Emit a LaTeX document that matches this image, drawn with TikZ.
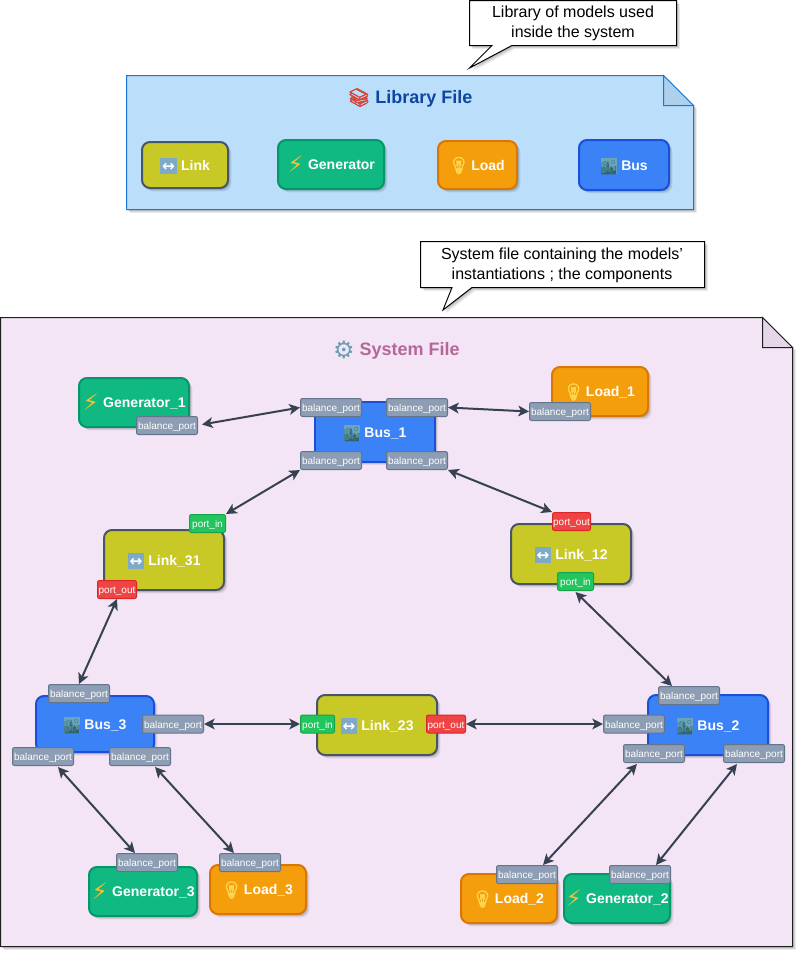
\documentclass[tikz,border=0pt]{standalone}
\usepackage{fontspec}
\setmainfont{Liberation Sans}
\newfontfamily\emofont[FakeBold=3]{Noto Emoji}
\newfontfamily\emolight{Noto Emoji}
\newfontfamily\symfont{DejaVu Sans}
\usetikzlibrary{arrows.meta,shadows,calc}
\definecolor{linkc}{HTML}{C8C826}\definecolor{linkd}{HTML}{475569}
\definecolor{genc}{HTML}{10B981}\definecolor{gend}{HTML}{059669}
\definecolor{loadc}{HTML}{F59E0B}\definecolor{loadd}{HTML}{D97706}
\definecolor{busc}{HTML}{3B82F6}\definecolor{busd}{HTML}{1D4ED8}
\definecolor{portc}{HTML}{8D9DB3}\definecolor{portd}{HTML}{64748B}
\definecolor{inc}{HTML}{22C55E}\definecolor{ind}{HTML}{16A34A}
\definecolor{outc}{HTML}{EF4444}\definecolor{outd}{HTML}{DC2626}
\definecolor{libfill}{HTML}{BBDEFB}\definecolor{libdraw}{HTML}{1976D2}\definecolor{libfold}{HTML}{AFD0EC}
\definecolor{libtitle}{HTML}{0D47A1}
\definecolor{sysfill}{HTML}{F3E5F5}\definecolor{sysdraw}{HTML}{1F1F1F}\definecolor{sysfold}{HTML}{E6D6E9}
\definecolor{systitle}{HTML}{B5679A}
\definecolor{wire}{HTML}{374151}
\definecolor{boltc}{HTML}{FBC02D}\definecolor{bulbc}{HTML}{FFD54F}\definecolor{citybg}{HTML}{6AA5BE}\definecolor{cityc}{HTML}{2F6468}
\definecolor{arrc}{HTML}{7FA9C9}\definecolor{gearc}{HTML}{6F9DB0}\definecolor{bookc}{HTML}{D9453B}
\setlength{\fboxsep}{0pt}
\newcommand{\emoj}[2]{{\emofont\textcolor{#1}{#2}}}
\newcommand{\IcLink}{\makebox[12.8pt][c]{\smash{\raisebox{-2.2pt}{\colorbox{arrc}{\makebox[12.5pt][c]{\rule[-0.5pt]{0pt}{11.7pt}\raisebox{1.2pt}{\symfont\bfseries\fontsize{11.5pt}{12pt}\selectfont\textcolor{white}{↔}}}}}}}}
\newcommand{\IcGen}{\makebox[12.8pt][c]{\smash{\raisebox{-1.8pt}{\symfont\fontsize{17pt}{18pt}\selectfont\textcolor{boltc}{⚡}}}}}
\newcommand{\IcLoad}{\makebox[12.8pt][c]{\smash{\raisebox{-0.8pt}{\fontsize{12.5pt}{13pt}\selectfont\emoj{bulbc}{💡}}}}}
\newcommand{\IcBus}{\makebox[12.8pt][c]{\smash{\raisebox{-2.2pt}{\colorbox{citybg}{\makebox[12pt][c]{\rule[-0.5pt]{0pt}{11.5pt}\raisebox{0.8pt}{\emolight\fontsize{10.5pt}{10pt}\selectfont\textcolor{cityc}{🏙}}}}}}}}
\tikzset{
  x=0.75pt,y=-0.75pt,
  softshadow/.style={
    drop shadow={shadow xshift=0.9pt,shadow yshift=-0.9pt,opacity=.10,fill=black},
    drop shadow={shadow xshift=1.7pt,shadow yshift=-1.7pt,opacity=.10,fill=black},
    drop shadow={shadow xshift=2.5pt,shadow yshift=-2.5pt,opacity=.08,fill=black}},
  block/.style={draw,line width=1.5pt,rounded corners=6pt,text=white,inner sep=0pt,
    text height=9pt,text depth=1.2pt,
    font=\bfseries\fontsize{10.5pt}{12pt}\selectfont,softshadow},
  linkb/.style={block,fill=linkc,draw=linkd},
  genb/.style={block,fill=genc,draw=gend},
  loadb/.style={block,fill=loadc,draw=loadd},
  busb/.style={block,fill=busc,draw=busd},
  portb/.style={draw,line width=0.75pt,rounded corners=1.5pt,inner sep=0pt,text=white,
    text height=7.3pt,text depth=1.3pt,
    font=\fontsize{7.5pt}{9pt}\selectfont},
  balp/.style={portb,fill=portc,draw=portd},
  inp/.style={portb,fill=inc,draw=ind},
  outp/.style={portb,fill=outc,draw=outd},
  sheetl/.style={fill=libfill,draw=libdraw,line width=0.75pt},
  sheets/.style={fill=sysfill,draw=sysdraw,line width=0.75pt},
  wirel/.style={draw=wire,line width=1.5pt,{Stealth[length=8pt,width=8pt,inset=2pt]}-{Stealth[length=8pt,width=8pt,inset=2pt]}},
  callout/.style={fill=white,draw=black,line width=0.75pt},
  calltext/.style={align=center,inner sep=0pt,font=\fontsize{12pt}{15.2pt}\selectfont},
  titletext/.style={inner sep=0pt,font=\bfseries\fontsize{13.5pt}{16pt}\selectfont},
}
% \blk{name}{style}{x0}{y0}{x1}{y1}{text}
\newcommand{\blk}[7]{\node[#2,minimum width={(#5-#3)*0.75pt},minimum height={(#6-#4)*0.75pt}] (#1) at ({(#3+#5)/2},{(#4+#6)/2}) {#7};}
\begin{document}
\begin{tikzpicture}
\useasboundingbox (0,0) rectangle (804,958);
% Library sheet
\path[sheetl,softshadow] (126.5,75.5) -- (663.5,75.5) -- (693.5,105.5) -- (693.5,209.5) -- (126.5,209.5) -- cycle;
\path[sheetl,fill=libfold] (663.5,75.5) -- (693.5,105.5) -- (663.5,105.5) -- cycle;
\node[titletext,text=libtitle] (libtitle) at (410,98) {\emoj{bookc}{📚} Library File};
\blk{mlink}{linkb}{142}{142}{228}{188}{\IcLink\ Link}
\blk{mgen}{genb}{278}{140}{384}{189}{\IcGen\ Generator}
\blk{mload}{loadb}{438}{141}{517}{189}{\IcLoad\ Load}
\blk{mbus}{busb}{579}{140}{669}{190}{\IcBus\ Bus}
% Callout 1
\path[callout,softshadow] (469.5,0.5) -- (676.5,0.5) -- (676.5,45.5) -- (512,45.5) -- (469.5,68) -- (492,45.5) -- (469.5,45.5) -- cycle;
\node[calltext] (calla) at (573,23.5) {Library of models used\\inside the system};
% System sheet
\path[sheets,softshadow] (0.5,317.5) -- (762.5,317.5) -- (792.5,347.5) -- (792.5,946.5) -- (0.5,946.5) -- cycle;
\path[sheets,fill=sysfold] (762.5,317.5) -- (792.5,347.5) -- (762.5,347.5) -- cycle;
\node[titletext,text=systitle] (systitle) at (396.5,351) {\makebox[16pt][c]{\smash{\raisebox{-2pt}{\symfont\fontsize{18pt}{18pt}\selectfont\textcolor{gearc}{⚙}}}} System File};
% Callout 2
\path[callout,softshadow] (420.5,241.5) -- (704.5,241.5) -- (704.5,287.5) -- (472,287.5) -- (443,310) -- (452,287.5) -- (420.5,287.5) -- cycle;
\node[calltext] (callb) at (562,265) {System file containing the models'\\instantiations ; the components};
% Blocks
\blk{gone}{genb}{79}{378}{189}{427}{\IcGen\ Generator\_1}
\blk{lone}{loadb}{552}{367}{648}{416}{\IcLoad\ Load\_1}
\blk{bone}{busb,rounded corners=0pt}{315}{402}{435}{462}{\IcBus\ Bus\_1}
\blk{lkto}{linkb}{104}{530}{224}{590}{\IcLink\ Link\_31}
\blk{lkot}{linkb}{511}{524}{631}{584}{\IcLink\ Link\_12}
\blk{lktt}{linkb}{317}{695}{437}{755}{\IcLink\ Link\_23}
\blk{bthr}{busb}{36}{696}{154}{752}{\IcBus\ Bus\_3}
\blk{btwo}{busb}{648}{695}{768}{755}{\IcBus\ Bus\_2}
\blk{gthr}{genb}{89}{867}{197}{916}{\IcGen\ Generator\_3}
\blk{lthr}{loadb}{210}{865}{306}{914}{\IcLoad\ Load\_3}
\blk{ltwo}{loadb}{461}{874}{557}{923}{\IcLoad\ Load\_2}
\blk{gtwo}{genb}{564}{874}{670}{923}{\IcGen\ Generator\_2}
% Ports
\blk{pg1}{balp}{136.5}{416.5}{197.5}{434.5}{balance\_port}
\blk{pl1}{balp}{529.5}{402.5}{590.5}{420.5}{balance\_port}
\blk{pb1a}{balp}{300.5}{398.5}{361.5}{416.5}{balance\_port}
\blk{pb1b}{balp}{386.5}{398.5}{447.5}{416.5}{balance\_port}
\blk{pb1c}{balp}{300.5}{451.5}{361.5}{469.5}{balance\_port}
\blk{pb1d}{balp}{386.5}{451.5}{447.5}{469.5}{balance\_port}
\blk{p31i}{inp}{189.5}{514.5}{225.5}{532.5}{port\_in}
\blk{p31o}{outp}{97.5}{580.5}{136.5}{598.5}{port\_out}
\blk{p12o}{outp}{552.5}{512.5}{590.5}{530.5}{port\_out}
\blk{p12i}{inp}{557.5}{572.5}{593.5}{590.5}{port\_in}
\blk{p23i}{inp}{300.5}{715}{334.5}{733}{port\_in}
\blk{p23o}{outp}{426.5}{715}{465.5}{733}{port\_out}
\blk{pb3a}{balp}{48.5}{684.5}{109.5}{702.5}{balance\_port}
\blk{pb3b}{balp}{142.5}{715}{203.5}{733}{balance\_port}
\blk{pb3c}{balp}{12.5}{747.5}{73.5}{765.5}{balance\_port}
\blk{pb3d}{balp}{109.5}{747.5}{170.5}{765.5}{balance\_port}
\blk{pb2a}{balp}{658.5}{686.5}{719.5}{704.5}{balance\_port}
\blk{pb2b}{balp}{603.5}{715}{664.5}{733}{balance\_port}
\blk{pb2c}{balp}{623.5}{744.5}{684.5}{762.5}{balance\_port}
\blk{pb2d}{balp}{723.5}{744.5}{784.5}{762.5}{balance\_port}
\blk{pg3}{balp}{116.5}{853.5}{177.5}{871.5}{balance\_port}
\blk{pl3}{balp}{219.5}{853.5}{280.5}{871.5}{balance\_port}
\blk{pl2}{balp}{496.5}{865.5}{557.5}{883.5}{balance\_port}
\blk{pg2}{balp}{609.5}{865.5}{670.5}{883.5}{balance\_port}
% Connectors
\draw[wirel] ([shift={(4,-1)}]pg1.east) -- (pb1a.west);
\draw[wirel] (pb1b.east) -- (pl1.west);
\draw[wirel] (pb1c.south west) -- (p31i.north east);
\draw[wirel] (pb1d.south east) -- (p12o.north west);
\draw[wirel] ([shift={(0,1)}]p12i.south) -- ([shift={(-17,0)}]pb2a.north);
\draw[wirel] (p31o.south) -- (pb3a.north);
\draw[wirel] (pb3b.east) -- (p23i.west);
\draw[wirel] (p23o.east) -- (pb2b.west);
\draw[wirel] ([shift={(15,1)}]pb3c.south) -- ([shift={(-12,0)}]pg3.north);
\draw[wirel] ([shift={(15,1)}]pb3d.south) -- ([shift={(-16,0)}]pl3.north);
\draw[wirel] ([shift={(-17,1)}]pb2c.south) -- ([shift={(16,0)}]pl2.north);
\draw[wirel] ([shift={(-17,1)}]pb2d.south) -- ([shift={(16,0)}]pg2.north);
\end{tikzpicture}
\end{document}
